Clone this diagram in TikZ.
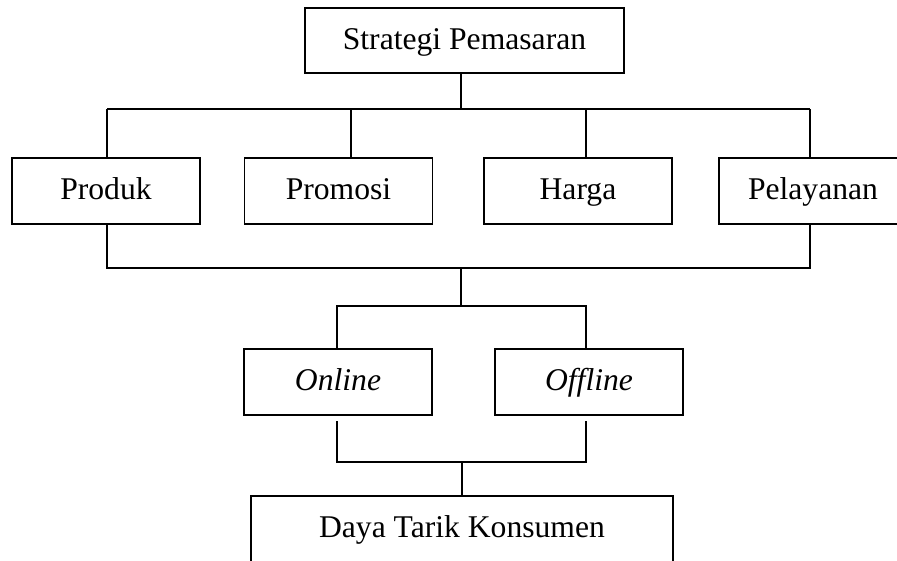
\documentclass[tikz,border=0pt]{standalone}
\usepackage{fontspec}
\setmainfont{Liberation Serif}
\usetikzlibrary{positioning,calc}

\begin{document}
\begin{tikzpicture}[x=0.02cm, y=-0.02cm,
		kotak/.style={draw, line width=1.1pt, minimum width=3.76cm, minimum height=1.32cm, inner sep=0pt, text height=13pt, text depth=3pt, font=\fontsize{18}{22}\selectfont},
		garis/.style={line width=1.1pt}]
		\useasboundingbox (0,0) rectangle (897,561);
		\clip (0,0) rectangle (897,561);

		\node[kotak, minimum width=6.38cm, minimum height=1.3cm] (strategi) at (464.5,40.5) {Strategi Pemasaran};

		\node[kotak] (produk) at (106,191) {Produk};
		\node[kotak] (promosi) at (338.5,191) {Promosi};
		\node[kotak] (harga) at (578,191) {Harga};
		\node[kotak] (pelayanan) at (813,191) {Pelayanan};

		\node[kotak] (online) at (338,382) {\itshape Online};
		\node[kotak] (offline) at (589,382) {\itshape Offline};

		\node[kotak, minimum width=8.44cm] (daya) at (462,529) {Daya Tarik Konsumen};

		\coordinate (atas) at (461,109);
		\coordinate (tA) at (107,109);
		\coordinate (tB) at (351,109);
		\coordinate (tC) at (586,109);
		\coordinate (tD) at (810,109);
		\coordinate (bA) at (107,268);
		\coordinate (bD) at (810,268);
		\coordinate (tengah) at (461,268);
		\coordinate (cabang) at (461,306);
		\coordinate (cA) at (337,306);
		\coordinate (cB) at (586,306);
		\coordinate (dA) at (337,421);
		\coordinate (dB) at (586,421);
		\coordinate (gabung) at (462,462);

		\draw[garis] (strategi.south -| atas) -- (atas);
		\draw[garis] (tA) -- (tD);
		\draw[garis] (tA) -- (produk.north -| tA);
		\draw[garis] (tB) -- (promosi.north -| tB);
		\draw[garis] (tC) -- (harga.north -| tC);
		\draw[garis] (tD) -- (pelayanan.north -| tD);

		\draw[garis] (produk.south -| bA) -- (bA) -- (bD) -- (pelayanan.south -| bD);
		\draw[garis] (tengah) -- (cabang);
		\draw[garis] (online.north -| cA) -- (cA) -- (cB) -- (offline.north -| cB);

		\draw[garis] (dA) |- (gabung) -| (dB);
		\draw[garis] (gabung) -- (daya.north -| gabung);
	\end{tikzpicture}
\end{document}
